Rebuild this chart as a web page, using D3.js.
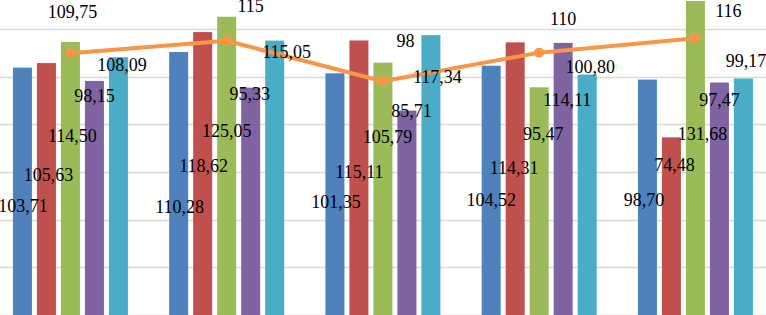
<!DOCTYPE html>
<html>
<head>
<meta charset="utf-8">
<script src="https://cdn.jsdelivr.net/npm/d3@7/dist/d3.min.js"></script>
<style>
  body { margin: 0; background: #fff; }
  .lbl { font-family: "Liberation Serif", "Times New Roman", serif; }
</style>
</head>
<body>
<svg id="chart" width="766" height="315"></svg>
<script>
// data
var categories = [ "1", "2", "3", "4", "5" ];
var keys = [ "blue", "red", "green", "purple", "cyan" ];
var blueValues   = [ 103.71, 110.28, 101.35, 104.52, 98.70 ];
var redValues    = [ 105.63, 118.62, 115.11, 114.31, 74.48 ];
var greenValues  = [ 114.50, 125.05, 105.79, 95.47, 131.68 ];
var purpleValues = [ 98.15, 95.33, 85.71, 114.11, 97.47 ];
var cyanValues   = [ 108.09, 115.05, 117.34, 100.80, 99.17 ];
var lineValues   = [ 109.75, 115, 98, 110, 116 ];
var gridTicks    = [ 0, 20, 40, 60, 80, 100, 120 ];

// where the data labels sit (baseline, in chart units) - they are not on the bars
var labelAt = {
  blue:   [ 43.2, 42.8, 44.9, 45.7, 45.7 ],
  red:    [ 56.2, 60.0, 57.4, 59.1, 60.4 ],
  green:  [ 72.5, 74.6, 72.1, 73.4, 73.4 ],
  purple: [ 89.3, 90.1, 83.0, 87.6, 87.6 ],
  cyan:   [ 102.3, 107.8, 97.3, 101.5, 104.0 ],
  line:   [ 124.5, 127.0, 112.4, 121.6, 124.9 ]
};
var labelDx = {
  blue:   [ 0.5, 1, 1, 0, -3.5 ],
  red:    [ 2, 1, 0.5, -1, 3 ],
  green:  [ 2, 0, 4.5, 4, 7 ],
  purple: [ 0, -1, 4.5, 4, 0 ],
  cyan:   [ 3.5, 12, 6.5, 3, 2.5 ],
  line:   [ 2, 24, 22.5, 24, 33 ]
};

var series = { blue: blueValues, red: redValues, green: greenValues, purple: purpleValues, cyan: cyanValues };
var colors = { blue: "#4F81BD", red: "#C0504D", green: "#9BBB59", purple: "#8064A2", cyan: "#4BACC6" };
var lineColor = "#F79646";

var rows = categories.map( function( c, i ) {
  var r = { cat: c, line: lineValues[ i ] };
  keys.forEach( function( k ) { r[ k ] = series[ k ][ i ]; } );
  return r;
} );

var svg = d3.select( "#chart" ),
    width = 766, height = 315;

// plot area is cropped by the picture on the left, right and bottom
var x0 = d3.scaleBand()
  .domain( categories )
  .range( [ -7.7, 773.55 ] )
  .paddingInner( 0.264 )
  .paddingOuter( 0.132 );

var x1 = d3.scaleBand()
  .domain( keys )
  .range( [ 0, x0.bandwidth() ] )
  .paddingInner( 0.2083 );

var y = d3.scaleLinear()
  .domain( [ 0, 140 ] )
  .range( [ 315, 315 - 140 * 2.385 ] );

var fmt = function( v ) { return v % 1 === 0 ? String( v ) : v.toFixed( 2 ).replace( ".", "," ); };

// gridlines
svg.append( "g" )
  .selectAll( "line" )
  .data( gridTicks )
  .enter().append( "line" )
    .attr( "x1", 0 )
    .attr( "x2", width )
    .attr( "y1", d => Math.round( y( d ) ) + 0.5 )
    .attr( "y2", d => Math.round( y( d ) ) + 0.5 )
    .attr( "stroke", "#d9d9d9" )
    .attr( "stroke-width", 1.5 );

// bars
svg.append( "g" )
  .selectAll( "g" )
  .data( rows )
  .enter().append( "g" )
    .attr( "transform", d => "translate(" + x0( d.cat ) + ",0)" )
  .selectAll( "rect" )
  .data( d => keys.map( k => ( { key: k, value: d[ k ] } ) ) )
  .enter().append( "rect" )
    .attr( "x", d => x1( d.key ) )
    .attr( "y", d => y( d.value ) )
    .attr( "width", x1.bandwidth() )
    .attr( "height", d => y( 0 ) - y( d.value ) )
    .attr( "fill", d => colors[ d.key ] );

// line
var cx = function( c ) { return x0( c ) + x0.bandwidth() / 2; };
var line = d3.line()
  .x( d => cx( d.cat ) )
  .y( d => y( d.line ) );

svg.append( "path" )
  .datum( rows )
  .attr( "fill", "none" )
  .attr( "stroke", lineColor )
  .attr( "stroke-width", 4 )
  .attr( "stroke-linejoin", "round" )
  .attr( "d", line );

svg.append( "g" )
  .selectAll( "circle" )
  .data( rows )
  .enter().append( "circle" )
    .attr( "cx", d => cx( d.cat ) )
    .attr( "cy", d => y( d.line ) )
    .attr( "r", 5 )
    .attr( "fill", lineColor );

// data labels
var labels = [];
rows.forEach( function( r, i ) {
  keys.forEach( function( k ) {
    labels.push( { x: x0( r.cat ) + x1( k ) + x1.bandwidth() / 2 + labelDx[ k ][ i ], at: labelAt[ k ][ i ], text: fmt( r[ k ] ) } );
  } );
  labels.push( { x: cx( r.cat ) + labelDx.line[ i ], at: labelAt.line[ i ], text: fmt( r.line ) } );
} );

svg.append( "g" )
  .attr( "class", "lbl" )
  .style( "font-size", "18px" )
  .attr( "text-anchor", "middle" )
  .attr( "fill", "#000" )
  .selectAll( "text" )
  .data( labels )
  .enter().append( "text" )
    .attr( "x", d => d.x )
    .attr( "y", d => y( d.at ) )
    .text( d => d.text );
</script>
</body>
</html>
